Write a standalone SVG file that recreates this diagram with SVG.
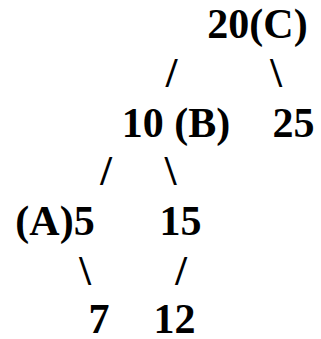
<svg xmlns="http://www.w3.org/2000/svg" width="321" height="339" viewBox="0 0 321 339">
<style>
text{font-family:"Liberation Serif","Times New Roman",serif;font-weight:bold;font-size:42px;fill:#000;text-anchor:middle}
</style>
<rect width="321" height="339" fill="#fff"/>
<g id="connectors">
<text x="171.5" y="87">/</text>
<text x="276" y="87">\</text>
<text x="106" y="185">/</text>
<text x="170.5" y="185">\</text>
<text x="85" y="285">\</text>
<text x="181" y="285">/</text>
</g>
<g id="node-20"><text x="257.5" y="38">20(C)</text></g>
<g id="node-10"><text x="176" y="137">10 (B)</text></g>
<g id="node-25"><text x="293.5" y="137">25</text></g>
<g id="node-5"><text x="55" y="235">(A)5</text></g>
<g id="node-15"><text x="180.5" y="235">15</text></g>
<g id="node-7"><text x="99" y="333">7</text></g>
<g id="node-12"><text x="174.5" y="333">12</text></g>
</svg>
